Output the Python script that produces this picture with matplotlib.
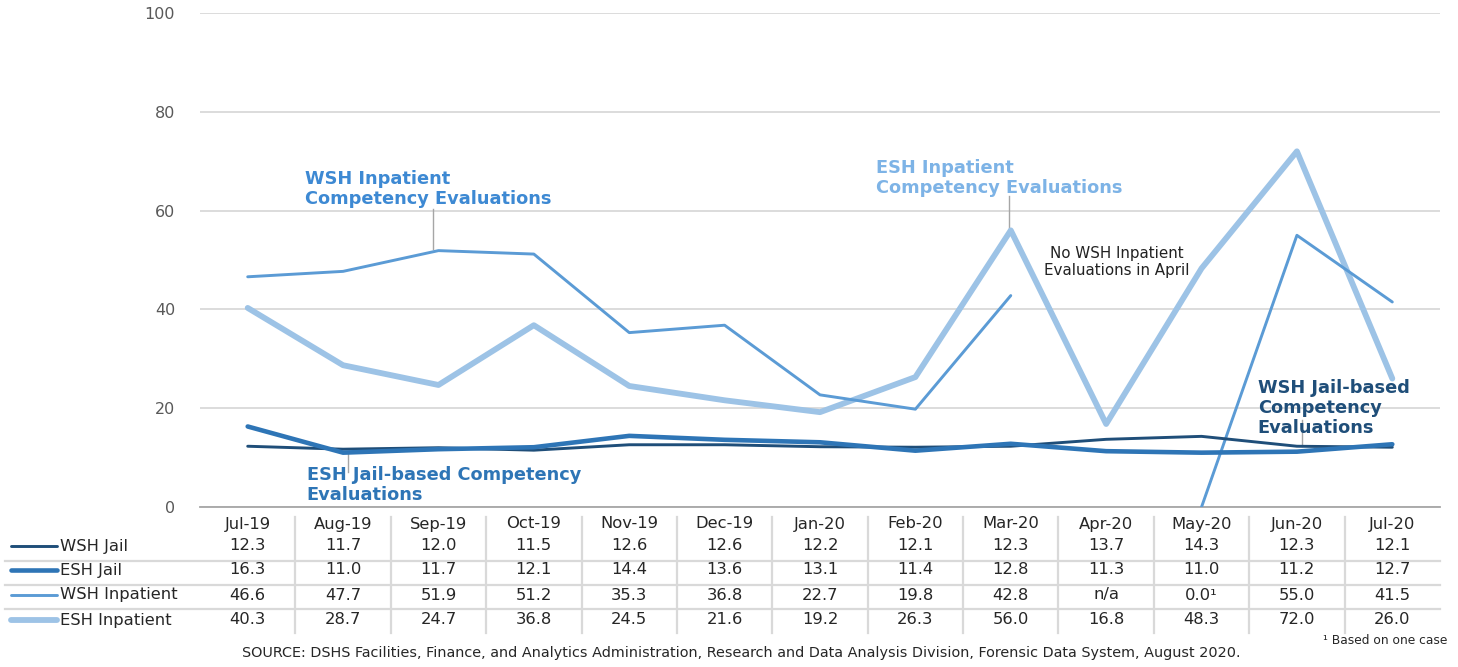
import numpy as np
import matplotlib
matplotlib.use("Agg")
import matplotlib.pyplot as plt
from matplotlib.transforms import blended_transform_factory
from matplotlib.lines import Line2D

plt.rcParams['font.family'] = ['DejaVu Sans']

months = ["Jul-19", "Aug-19", "Sep-19", "Oct-19", "Nov-19", "Dec-19", "Jan-20",
          "Feb-20", "Mar-20", "Apr-20", "May-20", "Jun-20", "Jul-20"]
wsh_jail = [12.3, 11.7, 12.0, 11.5, 12.6, 12.6, 12.2, 12.1, 12.3, 13.7, 14.3, 12.3, 12.1]
esh_jail = [16.3, 11.0, 11.7, 12.1, 14.4, 13.6, 13.1, 11.4, 12.8, 11.3, 11.0, 11.2, 12.7]
wsh_inpatient = [46.6, 47.7, 51.9, 51.2, 35.3, 36.8, 22.7, 19.8, 42.8, np.nan, 0.0, 55.0, 41.5]
esh_inpatient = [40.3, 28.7, 24.7, 36.8, 24.5, 21.6, 19.2, 26.3, 56.0, 16.8, 48.3, 72.0, 26.0]
wsh_inpatient_notes = ["", "", "", "", "", "", "", "", "", "", "\u00b9", "", ""]
series_names = ["WSH Jail", "ESH Jail", "WSH Inpatient", "ESH Inpatient"]
y_ticks = [0, 20, 40, 60, 80, 100]

colors = ["#1f4e79", "#2e75b6", "#5b9bd5", "#9dc3e6"]
widths = [2.1, 3.3, 2.1, 4.2]
series = [wsh_jail, esh_jail, wsh_inpatient, esh_inpatient]
notes = [None, None, wsh_inpatient_notes, None]

W, H = 1458, 667
fig = plt.figure(figsize=(W / 100, H / 100), dpi=100)
ax = fig.add_axes([200 / W, 1 - 507 / H, 1240 / W, 494 / H])

x = np.arange(len(months))
order = [3, 2, 0, 1]
for i in order:
    ax.plot(x, series[i], color=colors[i], lw=widths[i], solid_capstyle='round',
            solid_joinstyle='round', zorder=3 + (1 if i < 2 else 0))

ax.set_xlim(-0.5, len(months) - 0.5)
ax.set_ylim(0, 100)
ax.set_yticks(y_ticks)
ax.set_yticklabels([str(t) for t in y_ticks], color="#595959", fontsize=11.5)
ax.tick_params(axis='y', length=0, pad=18)
ax.set_xticks([])
ax.grid(axis='y', color="#d9d9d9", lw=1.3)
for s in ["top", "right", "left"]:
    ax.spines[s].set_visible(False)
ax.spines["bottom"].set_color("#a6a6a6")
ax.spines["bottom"].set_linewidth(1.3)
ax.spines["bottom"].set_zorder(2)

# Annotations
lab_fs = 12.8
ax.text(0.60, 64.4, "WSH Inpatient\nCompetency Evaluations", color="#3d89d3",
        fontsize=lab_fs, fontweight='bold', va='center', ha='left', linespacing=1.15)
ax.plot([1.94, 1.94], [60.3, 52.3], color="#a6a6a6", lw=1, zorder=2)

ax.text(6.59, 66.6, "ESH Inpatient\nCompetency Evaluations", color="#7db3e6",
        fontsize=lab_fs, fontweight='bold', va='center', ha='left', linespacing=1.15)
ax.plot([7.98, 7.98], [63.0, 56.3], color="#a6a6a6", lw=1, zorder=2)

ax.text(9.11, 49.6, "No WSH Inpatient\nEvaluations in April", color="#222222",
        fontsize=10.9, va='center', ha='center', linespacing=1.1)

ax.text(10.59, 20.0, "WSH Jail-based\nCompetency\nEvaluations", color="#1f4e79",
        fontsize=lab_fs, fontweight='bold', va='center', ha='left', linespacing=1.15)
ax.plot([11.05, 11.05], [17.6, 12.3], color="#a6a6a6", lw=1, zorder=2)

ax.text(0.62, 4.45, "ESH Jail-based Competency\nEvaluations", color="#2e75b6",
        fontsize=lab_fs, fontweight='bold', va='center', ha='left', linespacing=1.15)
ax.plot([1.05, 1.05], [11.0, 7.0], color="#a6a6a6", lw=1, zorder=2)

# Data table
tr = blended_transform_factory(ax.transData, fig.transFigure)
trf = fig.transFigure

def fy(py):
    return 1 - py / H

tab_fs = 11.8
header_y = 524
row_y = [546, 570, 595, 620]
for j, m in enumerate(months):
    fig.text(j, fy(header_y), m, transform=tr, ha='center', va='center',
             fontsize=tab_fs, color="#262626")

def fmt(v, note):
    if v is None or (isinstance(v, float) and np.isnan(v)):
        return "n/a"
    return f"{v:.1f}" + (note or "")

for i, (name, vals) in enumerate(zip(series_names, series)):
    for j, v in enumerate(vals):
        note = notes[i][j] if notes[i] else ""
        fig.text(j, fy(row_y[i]), fmt(v, note), transform=tr, ha='center', va='center',
                 fontsize=tab_fs, color="#262626")
    fig.add_artist(Line2D([11 / W, 57 / W], [fy(row_y[i])] * 2, transform=trf,
                          color=colors[i], lw=widths[i], solid_capstyle='round'))
    fig.text(60 / W, fy(row_y[i]), name, transform=trf, ha='left', va='center',
             fontsize=tab_fs, color="#262626")

for py in [561, 585, 609]:
    fig.add_artist(Line2D([5 / W, 1440 / W], [fy(py)] * 2, transform=trf,
                          color="#d9d9d9", lw=1.6))
for j in range(len(months) - 1):
    fig.add_artist(Line2D([j + 0.5, j + 0.5], [fy(517), fy(633)], transform=tr,
                          color="#d9d9d9", lw=1.6))

fig.text(1447 / W, fy(641), "\u00b9 Based on one case", ha='right', va='center',
         fontsize=8.8, color="#262626")
fig.text(741 / W, fy(653),
         "SOURCE: DSHS Facilities, Finance, and Analytics Administration, Research and Data Analysis Division, Forensic Data System, August 2020.",
         ha='center', va='center', fontsize=10.4, color="#262626")

fig.savefig("out.png", dpi=100)
